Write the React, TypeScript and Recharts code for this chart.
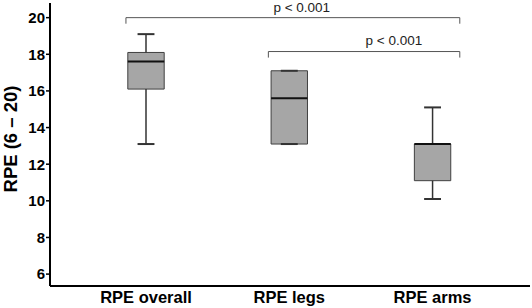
import React from "react";
import {
  ComposedChart,
  XAxis,
  YAxis,
  ReferenceArea,
  ReferenceLine,
  ReferenceDot,
  Label,
} from "recharts";

const categories = ["RPE overall", "RPE legs", "RPE arms"];
const mins = [13.1, 13.1, 10.1];
const q1s = [16.1, 13.1, 11.1];
const medians = [17.6, 15.6, 13.1];
const q3s = [18.1, 17.1, 13.1];
const maxs = [19.1, 17.1, 15.1];
const yTicks = [6, 8, 10, 12, 14, 16, 18, 20];

// significance brackets: [from, to, level]
const brackets = [
  { from: -0.14, to: 2.19, level: 20 },
  { from: 0.854, to: 2.19, level: 18.15 },
];
const pLabels = [
  { x: 1.087, y: 20.55, text: "p < 0.001" },
  { x: 1.73, y: 18.77, text: "p < 0.001" },
];

const data = categories.map((name, i) => ({
  x: i,
  name,
  min: mins[i],
  q1: q1s[i],
  median: medians[i],
  q3: q3s[i],
  max: maxs[i],
}));

const BOX_HALF = 0.127;
const CAP_HALF = 0.059;
const DROP = 0.33;
const boxStroke = "#333333";
const font = "Liberation Sans, Arial";

export default function App() {
  return (
    <div style={{ position: "absolute", left: 0, top: 0 }}>
      <ComposedChart
        width={532}
        height={308}
        data={data}
        margin={{ top: 3, right: 2, bottom: 0, left: 0 }}
      >
        <XAxis
          type="number"
          dataKey="x"
          domain={[-0.67, 2.68]}
          ticks={[0, 1, 2]}
          interval={0}
          allowDataOverflow
          tickFormatter={(v: number) => categories[v] ?? ""}
          height={22}
          tickLine={false}
          tickSize={0}
          tickMargin={5}
          axisLine={{ stroke: "#000", strokeWidth: 2 }}
          tick={{ fill: "#000", fontSize: 16.5, fontWeight: 700, fontFamily: font }}
        />
        <YAxis
          type="number"
          domain={[5.35, 20.8]}
          ticks={yTicks}
          allowDataOverflow
          width={50}
          tickSize={4}
          tickMargin={1}
          tickLine={{ stroke: "#000", strokeWidth: 1.5 }}
          axisLine={{ stroke: "#000", strokeWidth: 2 }}
          tick={{ fill: "#000", fontSize: 15, fontWeight: 700, fontFamily: font }}
        >
          <Label
            content={() => (
              <text
                x={10}
                y={139}
                transform="rotate(-90 10 139)"
                textAnchor="middle"
                dominantBaseline="central"
                fill="#000"
                fontSize={18.5}
                fontWeight={700}
                fontFamily={font}
              >
                RPE (6 – 20)
              </text>
            )}
          />
        </YAxis>

        {data.map((d) => (
          <ReferenceLine
            key={"wu" + d.x}
            segment={[
              { x: d.x, y: d.q3 },
              { x: d.x, y: d.max },
            ]}
            stroke={boxStroke}
            strokeWidth={1.5}
          />
        ))}
        {data.map((d) => (
          <ReferenceLine
            key={"wl" + d.x}
            segment={[
              { x: d.x, y: d.min },
              { x: d.x, y: d.q1 },
            ]}
            stroke={boxStroke}
            strokeWidth={1.5}
          />
        ))}
        {data.map((d) => (
          <ReferenceArea
            key={"box" + d.x}
            x1={d.x - BOX_HALF}
            x2={d.x + BOX_HALF}
            y1={d.q1}
            y2={d.q3}
            fill="#a6a6a6"
            fillOpacity={1}
            stroke="#404040"
            strokeWidth={1}
          />
        ))}
        {data.map((d) => (
          <ReferenceLine
            key={"med" + d.x}
            segment={[
              { x: d.x - BOX_HALF, y: d.median },
              { x: d.x + BOX_HALF, y: d.median },
            ]}
            stroke="#111"
            strokeWidth={2}
          />
        ))}
        {data.map((d) => (
          <ReferenceLine
            key={"capt" + d.x}
            segment={[
              { x: d.x - CAP_HALF, y: d.max },
              { x: d.x + CAP_HALF, y: d.max },
            ]}
            stroke={boxStroke}
            strokeWidth={2}
          />
        ))}
        {data.map((d) => (
          <ReferenceLine
            key={"capb" + d.x}
            segment={[
              { x: d.x - CAP_HALF, y: d.min },
              { x: d.x + CAP_HALF, y: d.min },
            ]}
            stroke={boxStroke}
            strokeWidth={2}
          />
        ))}

        {brackets.map((b, i) => (
          <ReferenceLine
            key={"br" + i}
            segment={[
              { x: b.from, y: b.level - DROP },
              { x: b.from, y: b.level },
            ]}
            stroke="#555"
            strokeWidth={1}
          />
        ))}
        {brackets.map((b, i) => (
          <ReferenceLine
            key={"bh" + i}
            segment={[
              { x: b.from, y: b.level },
              { x: b.to, y: b.level },
            ]}
            stroke="#555"
            strokeWidth={1}
          />
        ))}
        {brackets.map((b, i) => (
          <ReferenceLine
            key={"bd" + i}
            segment={[
              { x: b.to, y: b.level },
              { x: b.to, y: b.level - DROP },
            ]}
            stroke="#555"
            strokeWidth={1}
          />
        ))}
        {pLabels.map((p, i) => (
          <ReferenceDot
            key={"p" + i}
            x={p.x}
            y={p.y}
            r={0}
            fill="none"
            stroke="none"
            label={{
              value: p.text,
              position: "center",
              fill: "#222",
              fontSize: 13.5,
              fontFamily: font,
            }}
          />
        ))}
      </ComposedChart>
    </div>
  );
}
